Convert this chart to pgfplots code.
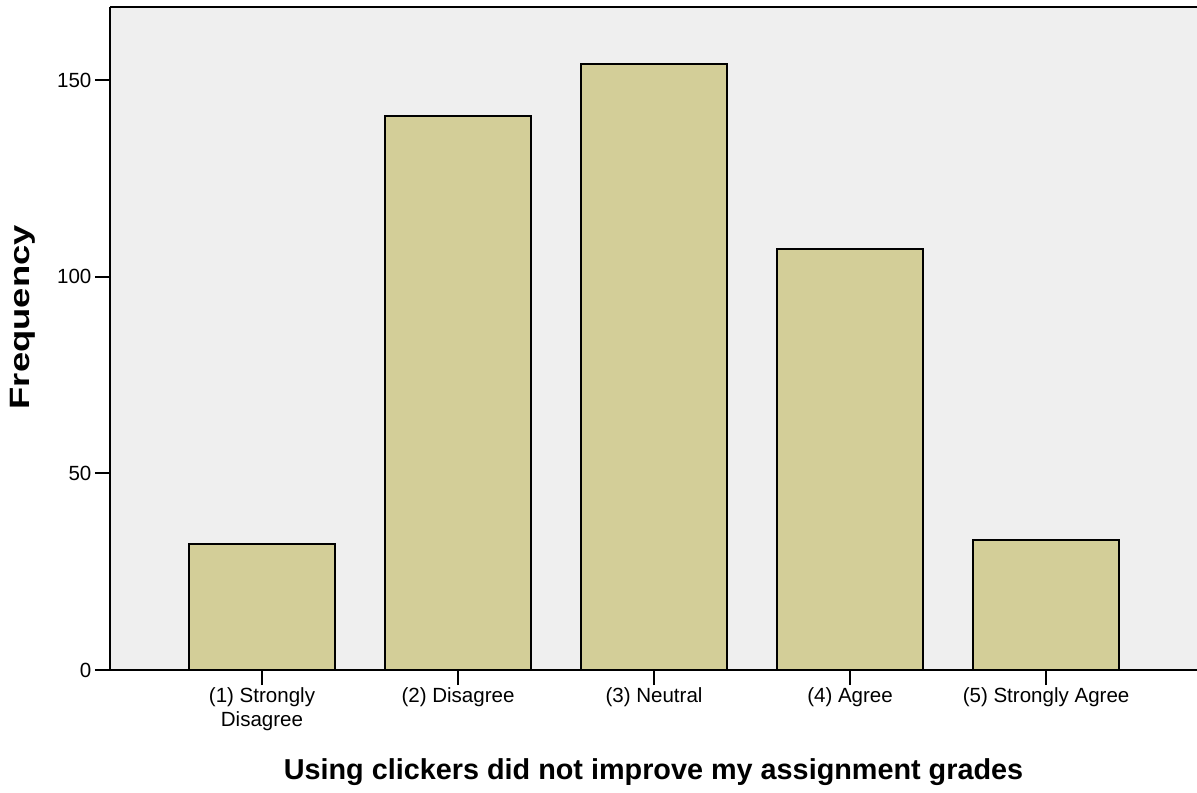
\documentclass[border=0pt]{standalone}
\usepackage{pgfplots}
\pgfplotsset{compat=1.18}
\usepackage{fontspec}
\setmainfont{Liberation Sans}
\definecolor{panelbg}{RGB}{239,239,239}
\definecolor{barfill}{RGB}{211,206,152}
\begin{document}
\begin{tikzpicture}
    \begin{axis}[
            scale only axis,
            width=815.25pt,
            height=497.25pt,
            font=\fontsize{15.4}{18}\selectfont,
            /pgf/number format/assume math mode=true,
            %
            axis x line*=bottom,
            axis y line*=left,
            axis line style={-, line width=2.1pt},
            axis background/.style={fill=panelbg},
            %
            xmin=0.2245, xmax=5.77,
            ymin=0, ymax=168.6,
            xtick={1,2,3,4,5},
            xticklabels={{(1) Strongly\\Disagree},{(2) Disagree},{(3) Neutral},{(4) Agree},{(5) Strongly Agree}},
            xticklabel style={align=center, inner sep=2pt},
            ytick={0,50,100,150},
            yticklabel style={inner sep=2.5pt},
            tick align=outside,
            major tick length=11.25pt,
            tick style={line width=1.5pt, black},
            %
            xlabel={\bfseries Using clickers did not improve my assignment grades},
            xlabel style={font=\fontsize{21.6}{24}\selectfont, at={(axis description cs:0.5,0)}, anchor=center, yshift=-76.5pt},
            ylabel={\bfseries Frequency},
            ylabel style={font=\fontsize{21}{24}\selectfont, at={([xshift=-65.25pt]axis description cs:0,0.532)}, anchor=center, xscale=1.3},
        ]

        \addplot[ybar, bar width=0.745, fill=barfill, draw=black, line width=1.5pt] coordinates {
            (1, 32)
            (2, 141)
            (3, 154)
            (4, 107)
            (5, 33)
        };

        \draw[line width=2.1pt] (rel axis cs:0,1) -- (rel axis cs:1,1);
    \end{axis}
    \pgfresetboundingbox
    \path (-82.5pt,-92.25pt) rectangle (815.25pt,502.5pt);
\end{tikzpicture}
\end{document}
